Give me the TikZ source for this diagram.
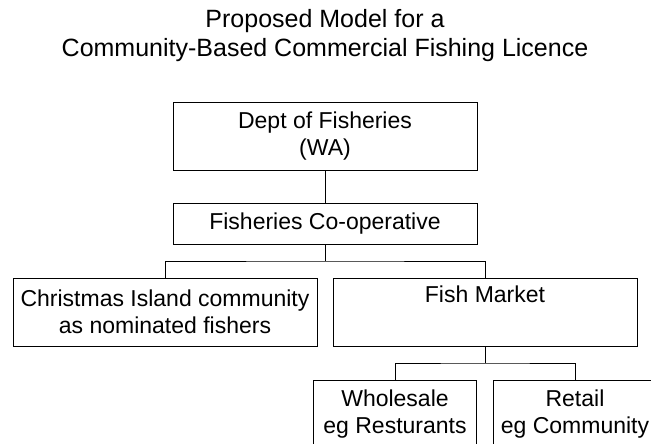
\documentclass[tikz,border=0pt]{standalone}
\usepackage{fontspec}
\setmainfont{Liberation Sans}
\tikzset{
    box/.style={draw=black,line width=0.8pt,minimum width=304pt,minimum height=68pt,
        align=center,inner sep=0pt,font=\fontsize{23}{27}\selectfont},
    smallbox/.style={box,minimum width=163pt},
    link/.style={draw=black,line width=0.8pt}
}
\begin{document}
\begin{tikzpicture}[x=1pt,y=-1pt]
    \clip (0,0) rectangle (651,444);
    \fill[white] (0,0) rectangle (651,444);

    % Titel
    \node[align=center,font=\fontsize{25}{28.5}\selectfont] (title) at (325,35.5)
        {Proposed Model for a\\Community-Based Commercial Fishing Licence};

    % Kasten
    \node[box] (dept) at (325,136.5) {Dept of Fisheries\\(WA)};
    \node[box,minimum height=41pt] (coop) at (325,223.5) {Fisheries Co-operative};
    \node[box] (island) at (165,312) {Christmas Island community\\as nominated fishers};
    \node[box] (market) at (485,312) {Fish Market\\\strut};
    \node[smallbox] (whole) at (395,414) {Wholesale\\eg Resturants};
    \node[smallbox] (retail) at (575,414) {Retail\\eg Community};

    % Verbindungen
    \coordinate (fork1) at (325,261);
    \coordinate (fork2) at (485,363);
    \draw[link] (dept) -- (coop);
    \draw[link] (coop) -- (fork1);
    \draw[link] (island.north) |- (fork1) -| (market.north);
    \draw[link] (market) -- (fork2);
    \draw[link] (whole.north) |- (fork2) -| (retail.north);
\end{tikzpicture}
\end{document}
